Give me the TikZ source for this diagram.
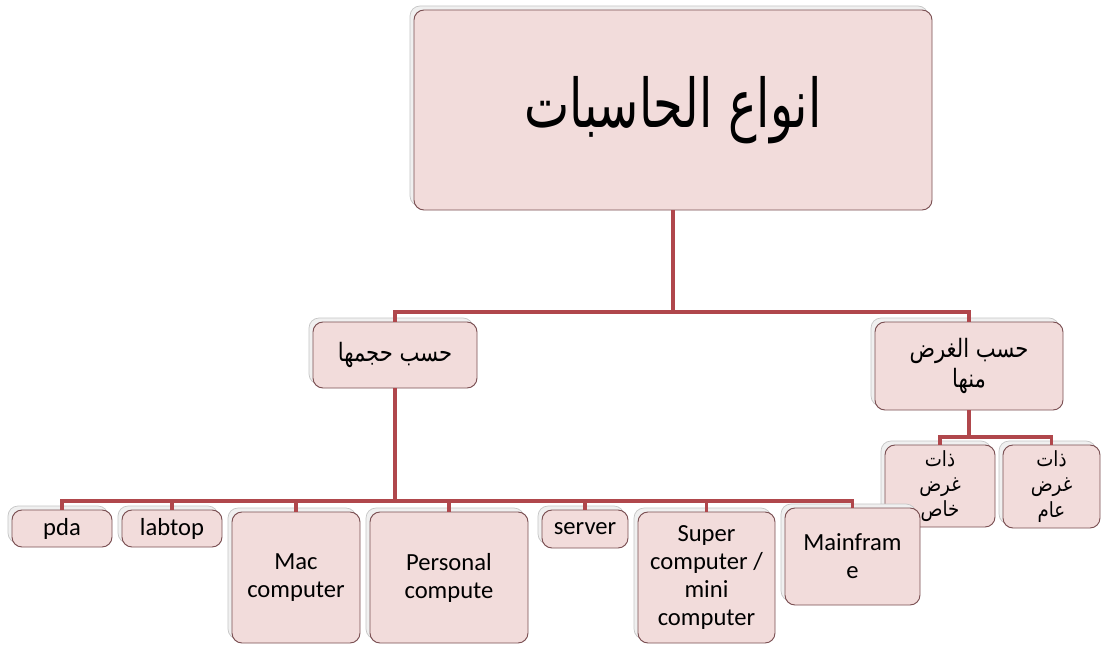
\documentclass[tikz,border=0pt]{standalone}
\usepackage{fontspec}
\setmainfont{Carlito}
\newfontfamily\arfont[Script=Arabic]{DejaVu Sans}
\TeXXeTstate=1
\usetikzlibrary{shadows}
\definecolor{boxfill}{HTML}{F2DCDB}
\definecolor{boxline}{HTML}{7A4F52}
\definecolor{connred}{HTML}{B0474C}
\begin{document}
\begin{tikzpicture}[x=0.03cm,y=-0.03cm,
  box/.style={draw=boxline, line width=0.8pt, fill=boxfill, rounded corners=0.3cm,
    inner sep=0pt, align=center,
    copy shadow={shadow xshift=-0.12cm, shadow yshift=0.12cm, fill=gray!12, draw=gray!45, line width=0.6pt}},
  wh/.style 2 args={minimum width=#1*0.03cm, minimum height=#2*0.03cm},
  lat/.style={font=\fontsize{21}{24}\selectfont},
  arm/.style={font=\arfont\fontsize{18}{25}\selectfont},
  ars/.style={font=\arfont\fontsize{15.5}{21.5}\selectfont},
  conn/.style={draw=connred, line width=3pt}]
\useasboundingbox (0,0) rectangle (1102,646);
\fill[white] (0,0) rectangle (1102,646);

% bus levels
\coordinate (busA) at (0,312);
\coordinate (busB) at (0,437);
\coordinate (busC) at (0,501);

% nodes
\node[box, wh={518}{200}, font=\arfont\fontsize{41}{48}\selectfont] (top) at (673,110) {\scalebox{1}[1.4]{\beginR انواع الحاسبات\endR}};
\node[box, wh={164}{66}, arm] (size) at (395,355) {\scalebox{1}[1.2]{\beginR حسب حجمها\endR}};
\node[box, wh={188}{88}, arm] (purpose) at (969,366) {\scalebox{1}[1.2]{\beginR حسب الغرض\endR}\\ \scalebox{1}[1.2]{\beginR منها\endR}};
\node[box, wh={110}{82}, ars] (special) at (940,486) {\scalebox{1}[1.15]{\beginR ذات\endR}\\ \scalebox{1}[1.15]{\beginR غرض\endR}\\ \scalebox{1}[1.15]{\beginR خاص\endR}};
\node[box, wh={97}{83}, ars] (general) at (1051.5,486.5) {\scalebox{1}[1.15]{\beginR ذات\endR}\\ \scalebox{1}[1.15]{\beginR غرض\endR}\\ \scalebox{1}[1.15]{\beginR عام\endR}};

\node[box, wh={100}{37}, lat] (pda) at (62,528.5) {pda};
\node[box, wh={100}{37}, lat] (labtop) at (172,528.5) {labtop};
\node[box, wh={128}{131}, lat] (mac) at (296,577.5) {Mac\\computer};
\node[box, wh={158}{131}, lat] (pc) at (449,577.5) {Personal\\compute};
\node[box, wh={86}{38}, lat] (server) at (585,529) {server};
\node[box, wh={137}{131}, lat] (super) at (706.5,577.5) {Super\\computer /\\mini\\computer};
\node[box, wh={135}{97}, lat] (main) at (852.5,556.5) {Mainfram\\e};

% connectors
\draw[conn] (top.south) -- (top.south |- busA);
\draw[conn] (size.north) -- (size.north |- busA) -- (purpose.north |- busA) -- (purpose.north);
\draw[conn] (purpose.south) -- (purpose.south |- busB);
\draw[conn] (special.north) -- (special.north |- busB) -- (general.north |- busB) -- (general.north);
\draw[conn] (size.south) -- (size.south |- busC);
\draw[conn] (pda.north) -- (pda.north |- busC) -- (main.north |- busC) -- (main.north);
\foreach \n in {labtop,mac,pc,server,super}{
  \draw[conn] (\n.north) -- (\n.north |- busC);
}
\end{tikzpicture}
\end{document}
